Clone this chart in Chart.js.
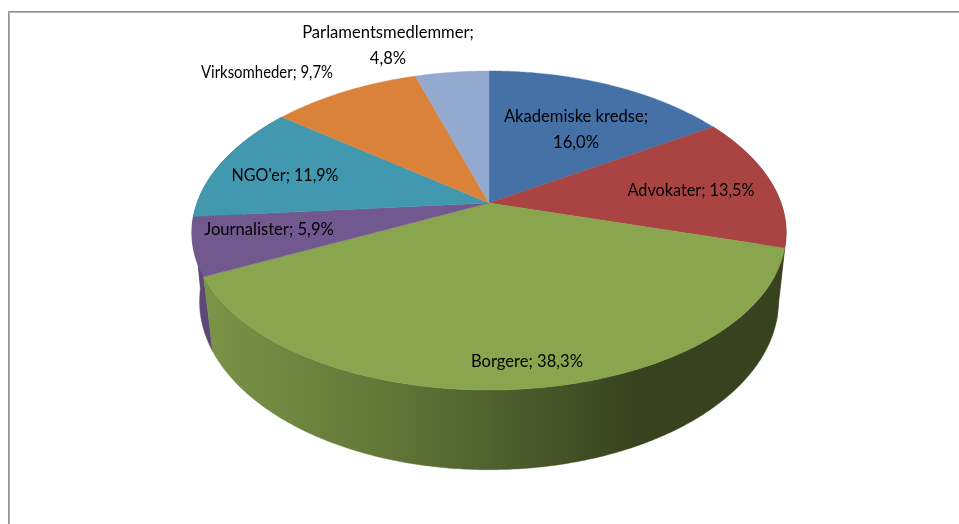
<!DOCTYPE html>
<html><head><meta charset="utf-8">
<style>html,body{margin:0;padding:0;background:#fff;overflow:hidden}canvas{display:block}</style>
<script src="https://cdn.jsdelivr.net/npm/chart.js@4"></script>
</head><body><canvas id="c" width="959" height="524"></canvas>
<script>
const categories = ['Akademiske kredse','Advokater','Borgere','Journalister',"NGO'er",'Virksomheder','Parlamentsmedlemmer'];
const shares = [16.0,13.5,38.3,5.9,11.9,9.7,4.8];
const faceColors = ['#4571A6','#A94442','#89A54E','#71588F','#4198AF','#DA8239','#94A9CF'];
const wallColors = ['#2F4C70','#722E2C',null,'#5E4878','#2B6676','#935726','#64728C'];

// view of the tilted disc: rim plane and base plane of the 3-D pie
const centreX = 489, tilt = 0.1724;
const rimPlane  = {y:203, ax:292,   ay:154.8, xTilt:0.185};
const basePlane = {y:274, ax:285.5, ay:162,   xTilt:0.165};
function project(plane, a){
  const u = Math.cos(a), v = Math.sin(a);
  return [centreX + plane.ax*u/(1 - plane.xTilt*v), plane.y + plane.ay*v/(1 - tilt*v)];
}
function arcPts(plane, a0, a1){
  const n = Math.max(2, Math.ceil(Math.abs(a1-a0)/0.01)), pts = [];
  for(let i=0;i<=n;i++) pts.push(project(plane, a0+(a1-a0)*i/n));
  return pts;
}
function fillPoly(ctx, pts, fill){
  ctx.beginPath();
  pts.forEach((p,i)=> i?ctx.lineTo(p[0],p[1]):ctx.moveTo(p[0],p[1]));
  ctx.closePath(); ctx.fillStyle = fill; ctx.fill();
  ctx.strokeStyle = fill; ctx.lineWidth = 0.4; ctx.stroke();
}
const labelLines = categories.map((c,i)=>{
  const t = c+'; '+shares[i].toFixed(1).replace('.',',')+'%';
  return (i===0 || i===6) ? [c+';', shares[i].toFixed(1).replace('.',',')+'%'] : [t];
});
const labelAnchors = [[576,130],[691,191],[527,362],[269,230],[285,176],[267,73],[388,46]];
const labelWidths = [145,127,112,130,107,132,175];
const lineStep = 26, labelFont = '16.6px Lato, "Open Sans", sans-serif';

const pie3d = {
  id:'pie3d',
  beforeDraw(chart){
    const ctx = chart.ctx;
    ctx.fillStyle='#fff'; ctx.fillRect(0,0,959,524);
    ctx.fillStyle='#8E8E8E'; ctx.fillRect(8,11,951,1); ctx.fillRect(8,11,1,513);
    ctx.fillStyle='#B4B4B4'; ctx.fillRect(8,12,951,1); ctx.fillRect(9,12,1,512);
  },
  beforeDatasetsDraw(chart){
    const ctx = chart.ctx, arcs = chart.getDatasetMeta(0).data;
    const front = arcs.map((a,i)=>i).filter(i=>{
      const s=arcs[i].startAngle, e=arcs[i].endAngle;
      return Math.sin(s)>0 || Math.sin(e)>0;
    }).sort((a,b)=>Math.sin((arcs[a].startAngle+arcs[a].endAngle)/2)-Math.sin((arcs[b].startAngle+arcs[b].endAngle)/2));
    front.forEach(i=>{
      const a=arcs[i], rim=arcPts(rimPlane,a.startAngle,a.endAngle), base=arcPts(basePlane,a.endAngle,a.startAngle);
      let fill = wallColors[i];
      if(i===2){
        const g = ctx.createLinearGradient(204,0,640,0);
        g.addColorStop(0,'#7A9447'); g.addColorStop(0.38,'#647A39');
        g.addColorStop(0.68,'#4E5F2E'); g.addColorStop(1,'#38421E');
        fill = g;
      }
      fillPoly(ctx, rim.concat(base), fill);
    });
    arcs.forEach((a,i)=>{
      const pts=[[centreX,rimPlane.y]].concat(arcPts(rimPlane,a.startAngle,a.endAngle));
      fillPoly(ctx, pts, faceColors[i]);
    });
    ctx.font = labelFont; ctx.fillStyle='#000'; ctx.textAlign='center'; ctx.textBaseline='middle';
    labelLines.forEach((ls,i)=>{
      const y0 = labelAnchors[i][1]-(ls.length-1)*lineStep/2;
      ls.forEach((t,j)=>ctx.fillText(t,labelAnchors[i][0],y0+j*lineStep,labelWidths[i]));
    });
    return false;
  }
};
new Chart(document.getElementById('c'),{
  type:'pie',
  data:{labels:categories,datasets:[{data:shares,backgroundColor:faceColors,borderWidth:0}]},
  options:{responsive:false,animation:false,events:[],
    plugins:{legend:{display:false},tooltip:{enabled:false},title:{display:false}}},
  plugins:[pie3d]
});
</script></body></html>
